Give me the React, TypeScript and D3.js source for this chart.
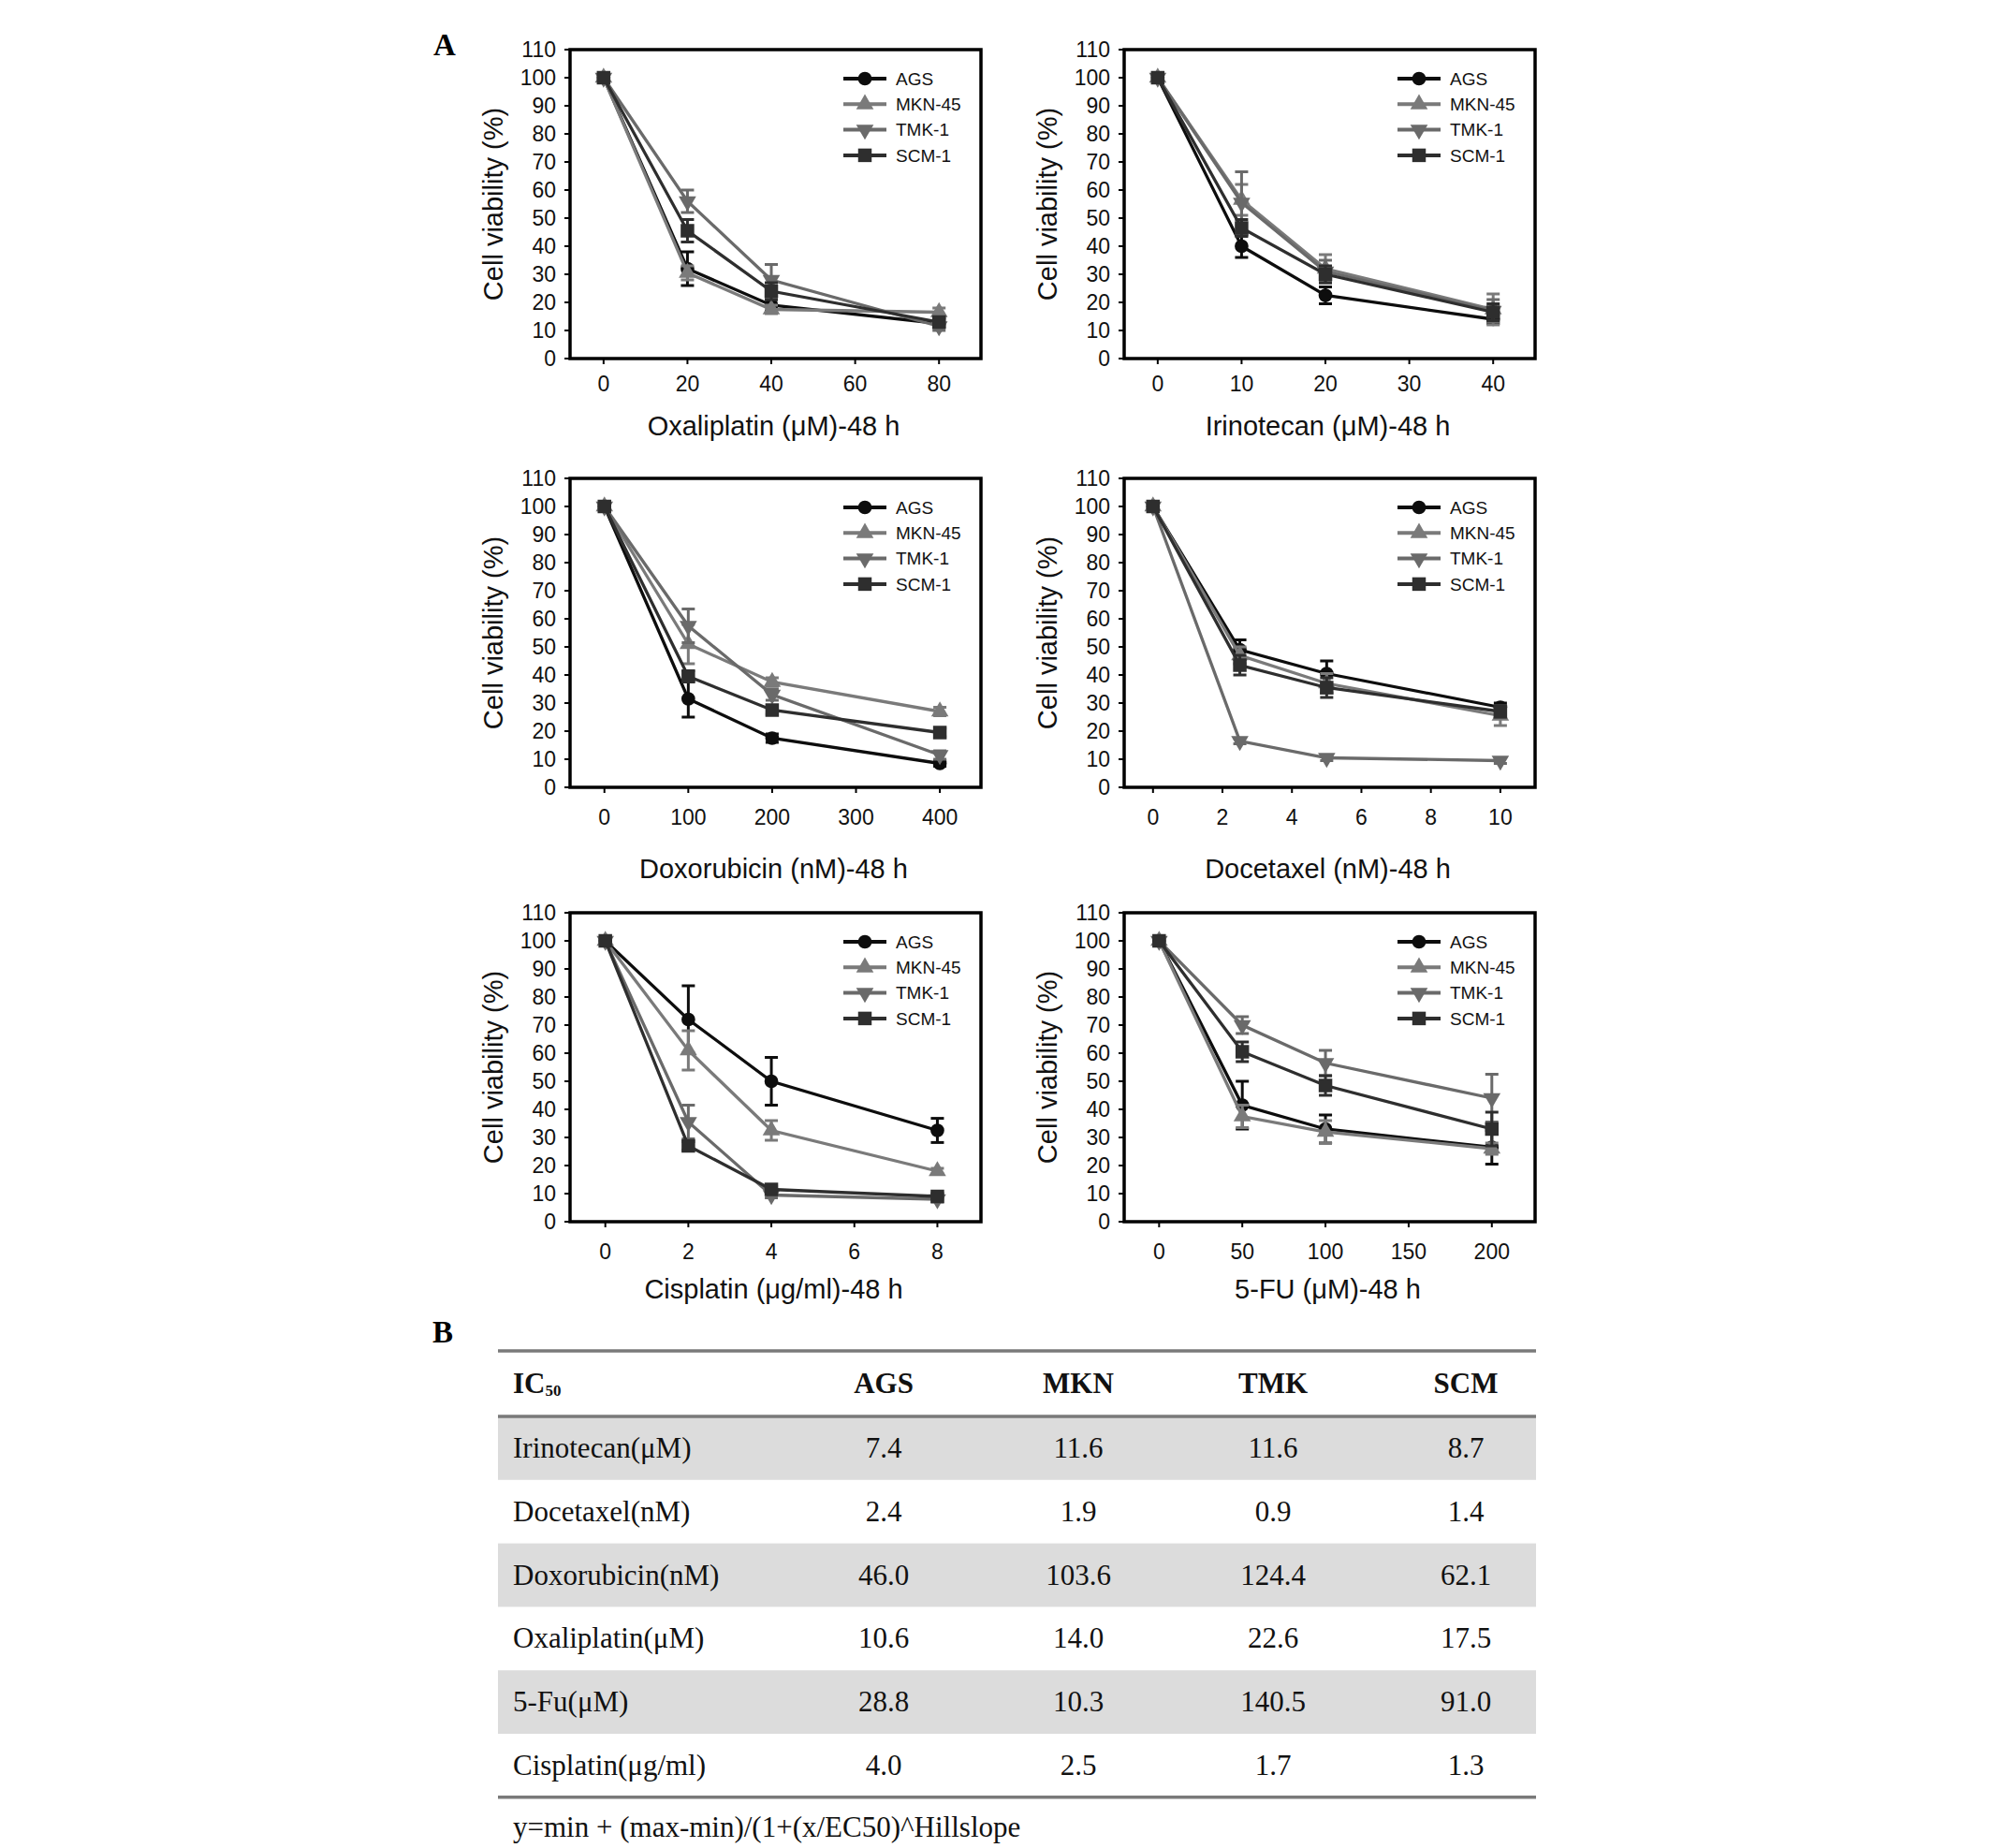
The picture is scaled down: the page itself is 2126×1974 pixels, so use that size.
import React, { useEffect, useRef } from "react";
import * as d3 from "d3";

// cell lines / styles
const cellLines = ["AGS", "MKN-45", "TMK-1", "SCM-1"];
const lineColors = ["#0d0d0d", "#7a7a7a", "#6a6a6a", "#2e2e2e"];
const yTicks = [0, 10, 20, 30, 40, 50, 60, 70, 80, 90, 100, 110];

// Oxaliplatin
const oxaliDose = [0, 20, 40, 80];
const oxaliTicks = [0, 20, 40, 60, 80];
const oxaliMean = [
  [100, 32, 19, 12.5],
  [100, 30.5, 17.5, 16.5],
  [100, 56, 28, 11.5],
  [100, 45.5, 24, 13],
];
const oxaliErr = [
  [1, 6, 2, 1.5],
  [1, 2.5, 1.5, 1.5],
  [1, 4, 5.5, 1.5],
  [1, 4, 3, 1.5],
];

// Irinotecan
const irinoDose = [0, 10, 20, 40];
const irinoTicks = [0, 10, 20, 30, 40];
const irinoMean = [
  [100, 40, 22.5, 14],
  [100, 56.5, 32, 17.5],
  [100, 55.5, 31, 17],
  [100, 46.5, 30, 16.5],
];
const irinoErr = [
  [1, 4, 3, 1.5],
  [1, 5.5, 5, 5.5],
  [1, 11, 4, 4],
  [1, 3, 3, 3],
];

// Doxorubicin
const doxoDose = [0, 100, 200, 400];
const doxoTicks = [0, 100, 200, 300, 400];
const doxoMean = [
  [100, 31.5, 17.5, 8.5],
  [100, 51, 37.5, 27],
  [100, 57.5, 33, 11.5],
  [100, 39.5, 27.5, 19.5],
];
const doxoErr = [
  [1, 6.5, 1.5, 1],
  [1, 7, 1.5, 1.5],
  [1, 6, 2, 1.5],
  [1, 2, 1.5, 1.5],
];

// Docetaxel
const doceDose = [0, 2.5, 5, 10];
const doceTicks = [0, 2, 4, 6, 8, 10];
const doceMean = [
  [100, 49, 40.5, 28.5],
  [100, 47, 37, 25.5],
  [100, 16.5, 10.5, 9.5],
  [100, 43.5, 35.5, 27],
];
const doceErr = [
  [1, 3.5, 4.5, 1.5],
  [1, 3, 3.5, 3.5],
  [1, 1, 1, 1],
  [1, 3.5, 3.5, 2],
];

// Cisplatin
const cisDose = [0, 2, 4, 8];
const cisTicks = [0, 2, 4, 6, 8];
const cisMean = [
  [100, 72, 50, 32.5],
  [100, 61, 32.5, 18],
  [100, 35.5, 9.5, 8],
  [100, 27, 11.5, 9],
];
const cisErr = [
  [1, 12, 8.5, 4.3],
  [1, 7, 3.5, 1],
  [1, 6, 1, 1],
  [1, 1.5, 1, 1],
];

// 5-FU
const fuDose = [0, 50, 100, 200];
const fuTicks = [0, 50, 100, 150, 200];
const fuMean = [
  [100, 41.5, 33, 26.5],
  [100, 37.5, 32, 26],
  [100, 70, 56.5, 44],
  [100, 60.5, 48.5, 33],
];
const fuErr = [
  [1, 8.5, 5, 6],
  [1, 4, 4, 2],
  [1, 3, 4.5, 8.5],
  [1, 3.5, 3.5, 6],
];

// table B
const icColumns = ["AGS", "MKN", "TMK", "SCM"];
const icDrugs = [
  "Irinotecan(\u03bcM)",
  "Docetaxel(nM)",
  "Doxorubicin(nM)",
  "Oxaliplatin(\u03bcM)",
  "5-Fu(\u03bcM)",
  "Cisplatin(\u03bcg/ml)",
];
const icValues = [
  [7.4, 11.6, 11.6, 8.7],
  [2.4, 1.9, 0.9, 1.4],
  [46.0, 103.6, 124.4, 62.1],
  [10.6, 14.0, 22.6, 17.5],
  [28.8, 10.3, 140.5, 91.0],
  [4.0, 2.5, 1.7, 1.3],
];
const formula = "y=min + (max-min)/(1+(x/EC50)^Hillslope";

const panels = [
  { title: "Oxaliplatin (\u03bcM)-48 h", dose: oxaliDose, ticks: oxaliTicks, mean: oxaliMean, err: oxaliErr, domain: [-8, 90], col: 0, row: 0 },
  { title: "Irinotecan (\u03bcM)-48 h", dose: irinoDose, ticks: irinoTicks, mean: irinoMean, err: irinoErr, domain: [-4, 45], col: 1, row: 0 },
  { title: "Doxorubicin (nM)-48 h", dose: doxoDose, ticks: doxoTicks, mean: doxoMean, err: doxoErr, domain: [-41, 449], col: 0, row: 1 },
  { title: "Docetaxel (nM)-48 h", dose: doceDose, ticks: doceTicks, mean: doceMean, err: doceErr, domain: [-0.83, 11], col: 1, row: 1 },
  { title: "Cisplatin (\u03bcg/ml)-48 h", dose: cisDose, ticks: cisTicks, mean: cisMean, err: cisErr, domain: [-0.85, 9.05], col: 0, row: 2 },
  { title: "5-FU (\u03bcM)-48 h", dose: fuDose, ticks: fuTicks, mean: fuMean, err: fuErr, domain: [-21, 226], col: 1, row: 2 },
];

const App = () => {
  const ref = useRef<SVGSVGElement>(null);

  useEffect(() => {
    const svg = d3.select(ref.current);
    svg.selectAll("*").remove();

    const sans = "'Liberation Sans', Arial, sans-serif";
    const serif = "'Liberation Serif', 'Times New Roman', serif";
    const colX = [609, 1201];
    const rowY = [53, 511, 975];
    const boxW = 439;
    const boxH = 330;
    const tickGap = [27, 32, 32];
    const titleGap = [72, 87, 72];

    const symbolFor = (i: number) => {
      if (i === 0) return d3.symbol().type(d3.symbolCircle).size(170)();
      if (i === 1) return d3.symbol().type(d3.symbolTriangle).size(150)();
      if (i === 2) return d3.symbol().type(d3.symbolTriangle).size(150)();
      return d3.symbol().type(d3.symbolSquare).size(210)();
    };
    const markerTransform = (i: number, x: number, y: number) =>
      i === 2 ? `translate(${x},${y}) rotate(180)` : `translate(${x},${y})`;

    // panel labels
    svg.append("text").text("A").attr("x", 463).attr("y", 59)
      .attr("font-family", serif).attr("font-weight", "bold").attr("font-size", 33);
    svg.append("text").text("B").attr("x", 462).attr("y", 1434)
      .attr("font-family", serif).attr("font-weight", "bold").attr("font-size", 33);

    panels.forEach((p) => {
      const x0 = colX[p.col];
      const y0 = rowY[p.row];
      const g = svg.append("g");

      const x = d3.scaleLinear().domain(p.domain).range([x0, x0 + boxW]);
      const y = d3.scaleLinear().domain([0, 110]).range([y0 + boxH, y0]);

      // frame
      g.append("rect").attr("x", x0).attr("y", y0).attr("width", boxW).attr("height", boxH)
        .attr("fill", "none").attr("stroke", "#000").attr("stroke-width", 3.5);

      // y axis ticks
      g.selectAll(".yt").data(yTicks).enter().append("line")
        .attr("x1", x0 - 6).attr("x2", x0).attr("y1", (d) => y(d)).attr("y2", (d) => y(d))
        .attr("stroke", "#000").attr("stroke-width", 2);
      g.selectAll(".yl").data(yTicks).enter().append("text")
        .text((d) => d).attr("x", x0 - 15).attr("y", (d) => y(d)).attr("dy", "0.36em")
        .attr("text-anchor", "end").attr("font-family", sans).attr("font-size", 23).attr("fill", "#111");

      // x axis ticks
      g.selectAll(".xt").data(p.ticks).enter().append("line")
        .attr("x1", (d) => x(d)).attr("x2", (d) => x(d)).attr("y1", y0 + boxH).attr("y2", y0 + boxH + 6)
        .attr("stroke", "#000").attr("stroke-width", 2);
      g.selectAll(".xl").data(p.ticks).enter().append("text")
        .text((d) => d).attr("x", (d) => x(d)).attr("y", y0 + boxH + tickGap[p.row]).attr("dy", "0.36em")
        .attr("text-anchor", "middle").attr("font-family", sans).attr("font-size", 23).attr("fill", "#111");

      // axis titles
      g.append("text").text(p.title).attr("x", x0 + boxW / 2 - 2).attr("y", y0 + boxH + titleGap[p.row])
        .attr("dy", "0.36em").attr("text-anchor", "middle").attr("font-family", sans).attr("font-size", 29).attr("fill", "#111");
      g.append("text").text("Cell viability  (%)")
        .attr("transform", `translate(${x0 - 82},${y0 + boxH / 2}) rotate(-90)`)
        .attr("dy", "0.36em").attr("text-anchor", "middle").attr("font-family", sans).attr("font-size", 29).attr("fill", "#111");

      const line = d3.line<number>()
        .x((_, j) => x(p.dose[j]))
        .y((d) => y(d));

      cellLines.forEach((name, i) => {
        const col = lineColors[i];
        const m = p.mean[i];
        const e = p.err[i];
        // error bars
        m.forEach((v, j) => {
          if (j === 0) return;
          const cx = x(p.dose[j]);
          g.append("line").attr("x1", cx).attr("x2", cx).attr("y1", y(v - e[j])).attr("y2", y(v + e[j]))
            .attr("stroke", col).attr("stroke-width", 3);
          [v - e[j], v + e[j]].forEach((c) => {
            g.append("line").attr("x1", cx - 7).attr("x2", cx + 7).attr("y1", y(c)).attr("y2", y(c))
              .attr("stroke", col).attr("stroke-width", 3);
          });
        });
        g.append("path").datum(m).attr("d", line).attr("fill", "none")
          .attr("stroke", col).attr("stroke-width", 3.3);
        g.selectAll(`.m${i}`).data(m).enter().append("path")
          .attr("d", symbolFor(i))
          .attr("transform", (d, j) => markerTransform(i, x(p.dose[j]), y(d)))
          .attr("fill", col);

        // legend
        const ly = y0 + 31 + i * 27.3;
        const lx1 = x0 + boxW - 147;
        const lx2 = x0 + boxW - 101;
        g.append("line").attr("x1", lx1).attr("x2", lx2).attr("y1", ly).attr("y2", ly)
          .attr("stroke", col).attr("stroke-width", 4);
        g.append("path").attr("d", symbolFor(i)).attr("transform", markerTransform(i, (lx1 + lx2) / 2, ly)).attr("fill", col);
        g.append("text").text(name).attr("x", x0 + boxW - 91).attr("y", ly).attr("dy", "0.36em")
          .attr("font-family", sans).attr("font-size", 19).attr("fill", "#111");
      });
    });

    // table
    const tL = 532;
    const tR = 1641;
    const tTop = 1443;
    const hBottom = 1513;
    const rowH = 67.8;
    const colCenters = [944, 1152, 1360, 1566];
    const tg = svg.append("g").attr("font-family", serif).attr("fill", "#111");

    icDrugs.forEach((d, i) => {
      if (i % 2 === 0) {
        tg.append("rect").attr("x", tL).attr("y", hBottom + i * rowH).attr("width", tR - tL).attr("height", rowH)
          .attr("fill", "#dcdcdc");
      }
      const cy = hBottom + (i + 0.5) * rowH;
      tg.append("text").text(d).attr("x", 548).attr("y", cy + 10).attr("font-size", 31);
      icValues[i].forEach((v, j) => {
        tg.append("text").text(v.toFixed(1)).attr("x", colCenters[j]).attr("y", cy + 10)
          .attr("text-anchor", "middle").attr("font-size", 31);
      });
    });

    [tTop, hBottom, hBottom + icDrugs.length * rowH].forEach((ry) => {
      tg.append("line").attr("x1", tL).attr("x2", tR).attr("y1", ry).attr("y2", ry)
        .attr("stroke", "#7a7a7a").attr("stroke-width", 3.5);
    });

    const hy = (tTop + hBottom) / 2 + 10;
    const ic = tg.append("text").attr("x", 548).attr("y", hy).attr("font-size", 31).attr("font-weight", "bold");
    ic.append("tspan").text("IC");
    ic.append("tspan").text("50").attr("font-size", 17).attr("dy", 3);
    icColumns.forEach((c, j) => {
      tg.append("text").text(c).attr("x", colCenters[j]).attr("y", hy)
        .attr("text-anchor", "middle").attr("font-size", 31).attr("font-weight", "bold");
    });

    tg.append("text").text(formula).attr("x", 548).attr("y", 1962).attr("font-size", 31);
  }, []);

  return (
    <svg
      ref={ref}
      width={2126}
      height={1974}
      style={{ position: "absolute", left: 0, top: 0, background: "#fff" }}
    />
  );
};

export default App;
